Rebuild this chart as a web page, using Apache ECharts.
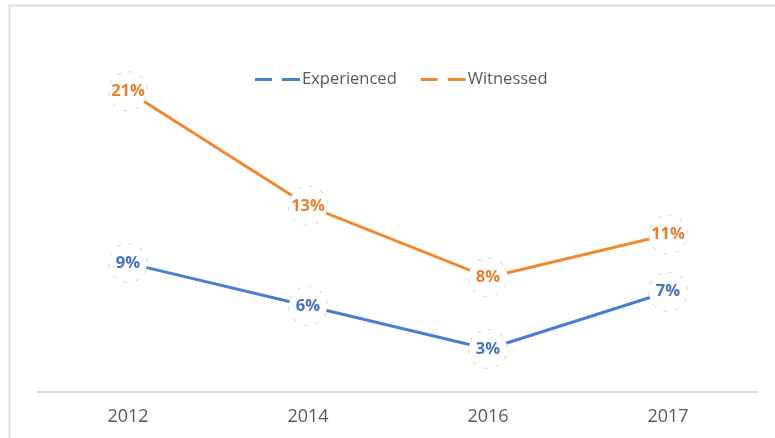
<!DOCTYPE html>
<html>
<head>
<meta charset="utf-8">
<script src="https://cdn.jsdelivr.net/npm/echarts@6/dist/echarts.min.js"></script>
<style>
  html, body { margin: 0; padding: 0; background: #fff; }
  #chart { width: 775px; height: 438px; }
</style>
</head>
<body>
<div id="chart"></div>
<script>
// Survey years and shares (as fractions)
const years = ['2012', '2014', '2016', '2017'];
const experienced = [0.09, 0.06, 0.03, 0.07];
const witnessed = [0.21, 0.13, 0.08, 0.11];

const FONT = 'Open Sans';
const BLUE = '#4a7ed2';
const ORANGE = '#f08a32';
const DASHES = 'path://M0,0h17v3h-17z M27,0h18v3h-18z';

function pctLabel(color) {
  return {
    show: true,
    position: 'inside',
    formatter: p => Math.round(p.value * 100) + '%',
    color: color,
    fontFamily: FONT,
    fontWeight: 'bold',
    fontSize: 16.5,
    width: 38,
    height: 38,
    lineHeight: 38,
    align: 'center',
    verticalAlign: 'middle',
    backgroundColor: '#ffffff',
    borderColor: '#d9d9d9',
    borderWidth: 1,
    borderType: [4, 8],
    borderRadius: 19
  };
}

const chart = echarts.init(document.getElementById('chart'));
chart.setOption({
  animation: false,
  graphic: [{
    type: 'rect',
    shape: { x: 9.5, y: 5.5, width: 800, height: 500 },
    style: { fill: 'none', stroke: '#dedede', lineWidth: 2 },
    silent: true
  }],
  legend: {
    left: 250,
    top: 66,
    itemGap: 24,
    itemWidth: 45,
    itemHeight: 3,
    textStyle: { fontFamily: FONT, fontSize: 16.5, color: '#595959', padding: [0, 0, 0, -3] },
    data: [
      { name: 'Experienced', icon: DASHES, itemStyle: { color: BLUE, opacity: 1 } },
      { name: 'Witnessed', icon: DASHES, itemStyle: { color: ORANGE, opacity: 1 } }
    ]
  },
  grid: { left: 38, right: 17, top: 34, bottom: 46 },
  xAxis: {
    type: 'category',
    data: years,
    boundaryGap: true,
    axisLine: { lineStyle: { color: '#d9d9d9', width: 2 } },
    axisTick: { show: false },
    axisLabel: { fontFamily: FONT, fontSize: 18, color: '#595959', margin: 16 }
  },
  yAxis: {
    type: 'value',
    min: 0,
    max: 0.25,
    show: false,
    splitLine: { show: false }
  },
  series: [
    {
      name: 'Experienced',
      type: 'line',
      data: experienced,
      symbol: 'circle',
      symbolSize: 1,
      lineStyle: { color: BLUE, width: 3 },
      itemStyle: { color: BLUE },
      label: pctLabel('#4472c4')
    },
    {
      name: 'Witnessed',
      type: 'line',
      data: witnessed,
      symbol: 'circle',
      symbolSize: 1,
      lineStyle: { color: ORANGE, width: 3 },
      itemStyle: { color: ORANGE },
      label: pctLabel('#ed7d31')
    }
  ]
});
</script>
</body>
</html>
